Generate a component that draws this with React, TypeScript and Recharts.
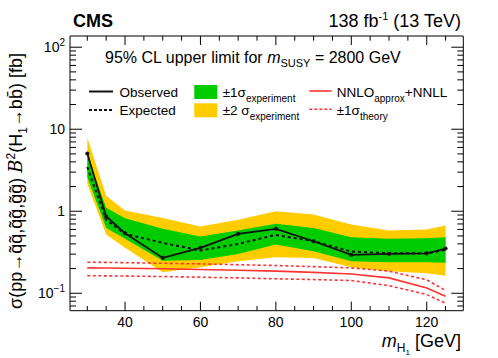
import React from 'react';
import { ComposedChart, Area, Line, XAxis, YAxis } from 'recharts';

const FONT = '"Liberation Sans", Arial, Helvetica, sans-serif';

const masses = [30, 35, 40, 50, 60, 70, 80, 90, 100, 110, 120, 125];
const observed = [5.05, 0.862, 0.539, 0.27, 0.358, 0.53, 0.61, 0.431, 0.294, 0.302, 0.307, 0.351];
const expected = [3.46, 0.785, 0.53, 0.412, 0.332, 0.4, 0.515, 0.431, 0.323, 0.307, 0.307, 0.338];
const sigma1Low = [2.6, 0.627, 0.461, 0.25, 0.255, 0.302, 0.393, 0.325, 0.246, 0.239, 0.239, 0.235];
const sigma1High = [4.78, 1.1, 0.821, 0.61, 0.491, 0.581, 0.702, 0.627, 0.482, 0.461, 0.469, 0.482];
const sigma2Low = [2.16, 0.52, 0.358, 0.18, 0.207, 0.246, 0.275, 0.27, 0.207, 0.185, 0.175, 0.164];
const sigma2High = [7.85, 1.55, 1.02, 0.83, 0.651, 0.786, 1.0, 0.911, 0.689, 0.581, 0.598, 0.669];
const theory = [0.204, 0.203, 0.202, 0.199, 0.195, 0.191, 0.186, 0.18, 0.172, 0.154, 0.116, 0.092];
const theoryUp = [0.239, 0.238, 0.236, 0.232, 0.228, 0.223, 0.218, 0.211, 0.204, 0.186, 0.146, 0.108];
const theoryDown = [0.164, 0.163, 0.162, 0.16, 0.157, 0.154, 0.15, 0.147, 0.143, 0.124, 0.0964, 0.0755];

const xTicks = [30, 35, 40, 45, 50, 55, 60, 65, 70, 75, 80, 85, 90, 95, 100, 105, 110, 115, 120, 125];
const xMajor = [40, 60, 80, 100, 120];
const yTicks = [0.07, 0.08, 0.09, 0.1, 0.2, 0.3, 0.4, 0.5, 0.6, 0.7, 0.8, 0.9, 1, 2, 3, 4, 5, 6, 7, 8, 9, 10, 20, 30, 40, 50, 60, 70, 80, 90, 100];
const yMajor = [0.1, 1, 10, 100];

const X_DOMAIN = [25.41, 129.7];
const Y_DOMAIN = [0.0613, 137];

const data = masses.map((m, i) => ({
  m,
  obs: observed[i],
  exp: expected[i],
  band1: [sigma1Low[i], sigma1High[i]],
  band2: [sigma2Low[i], sigma2High[i]],
  th: theory[i],
  thUp: theoryUp[i],
  thDn: theoryDown[i],
}));

const XBottomTick = (props: any) => {
  const { x, y, payload } = props;
  const v = payload.value;
  const major = xMajor.includes(v);
  return (
    <g>
      <line x1={x} x2={x} y1={y} y2={y - (major ? 9 : 4.7)} stroke="#000" strokeWidth={1} />
      {major && (
        <text x={x} y={y + 16.5} textAnchor="middle" fontSize={14} fontFamily={FONT} fill="#000">
          {v}
        </text>
      )}
    </g>
  );
};

const XTopTick = (props: any) => {
  const { x, y, payload } = props;
  const major = xMajor.includes(payload.value);
  return <line x1={x} x2={x} y1={y} y2={y + (major ? 9 : 4.7)} stroke="#000" strokeWidth={1} />;
};

const yLabel = (v: number) => {
  if (v === 0.1)
    return (
      <>
        10<tspan dy={-6} fontSize={10}>−1</tspan>
      </>
    );
  if (v === 100)
    return (
      <>
        10<tspan dy={-6} fontSize={10}>2</tspan>
      </>
    );
  return <>{String(v)}</>;
};

const YLeftTick = (props: any) => {
  const { x, y, payload } = props;
  const v = payload.value;
  const major = yMajor.includes(v);
  return (
    <g>
      <line x1={x} x2={x + (major ? 12 : 6)} y1={y} y2={y} stroke="#000" strokeWidth={1} />
      {major && (
        <text x={x - 5} y={y + 5} textAnchor="end" fontSize={14} fontFamily={FONT} fill="#000">
          {yLabel(v)}
        </text>
      )}
    </g>
  );
};

const YRightTick = (props: any) => {
  const { x, y, payload } = props;
  const major = yMajor.includes(payload.value);
  return <line x1={x} x2={x - (major ? 12 : 6)} y1={y} y2={y} stroke="#000" strokeWidth={1} />;
};

const GREEN = '#00cc00';
const YELLOW = '#ffcc00';
const RED = '#ff3333';

export default function App() {
  return (
    <div style={{ position: 'absolute', left: 0, top: 0, width: 498, height: 358, background: '#fff' }}>
      <ComposedChart
        width={498}
        height={358}
        data={data}
        margin={{ top: 35, right: 33.7, bottom: 46.3, left: 69 }}
      >
        <XAxis
          dataKey="m"
          type="number"
          domain={X_DOMAIN}
          allowDataOverflow
          ticks={xTicks}
          interval={0}
          height={1}
          tickSize={0}
          tickMargin={0}
          tickLine={false}
          tick={XBottomTick}
          axisLine={{ stroke: '#000', strokeWidth: 1 }}
        />
        <XAxis
          xAxisId="top"
          orientation="top"
          dataKey="m"
          type="number"
          domain={X_DOMAIN}
          allowDataOverflow
          ticks={xTicks}
          interval={0}
          height={1}
          tickSize={0}
          tickMargin={0}
          tickLine={false}
          tick={XTopTick}
          axisLine={{ stroke: '#000', strokeWidth: 1 }}
        />
        <YAxis
          type="number"
          scale="log"
          domain={Y_DOMAIN}
          allowDataOverflow
          ticks={yTicks}
          interval={0}
          width={1}
          tickSize={0}
          tickMargin={0}
          tickLine={false}
          tick={YLeftTick}
          axisLine={{ stroke: '#000', strokeWidth: 1 }}
        />
        <YAxis
          yAxisId="right"
          orientation="right"
          type="number"
          scale="log"
          domain={Y_DOMAIN}
          allowDataOverflow
          ticks={yTicks}
          interval={0}
          width={1}
          tickSize={0}
          tickMargin={0}
          tickLine={false}
          tick={YRightTick}
          axisLine={{ stroke: '#000', strokeWidth: 1 }}
        />
        <Area dataKey="band2" stroke="none" fill={YELLOW} fillOpacity={1} isAnimationActive={false} />
        <Area dataKey="band1" stroke="none" fill={GREEN} fillOpacity={1} isAnimationActive={false} />
        <Line dataKey="thUp" stroke={RED} strokeWidth={1.6} strokeDasharray="3 2.5" dot={false} isAnimationActive={false} />
        <Line dataKey="thDn" stroke={RED} strokeWidth={1.6} strokeDasharray="3 2.5" dot={false} isAnimationActive={false} />
        <Line dataKey="th" stroke={RED} strokeWidth={1.6} dot={false} isAnimationActive={false} />
        <Line dataKey="exp" stroke="#111" strokeWidth={2} strokeDasharray="3 3" dot={false} isAnimationActive={false} />
        <Line
          dataKey="obs"
          stroke="#111"
          strokeWidth={1.8}
          dot={{ r: 1.8, fill: '#111', stroke: '#111', strokeWidth: 0.5 }}
          isAnimationActive={false}
        />
      </ComposedChart>
      <svg
        width={498}
        height={358}
        style={{ position: 'absolute', left: 0, top: 0, pointerEvents: 'none' }}
        fontFamily={FONT}
      >
        <text x={73} y={27} fontSize={18} fontWeight="bold" fill="#000">CMS</text>
        <text x={461} y={27} fontSize={18} textAnchor="end" fill="#000">
          138 fb<tspan dy={-7} fontSize={11}>-1</tspan>
          <tspan dy={7}> (13 TeV)</tspan>
        </text>
        <text x={105} y={63} fontSize={16} fill="#000">
          95% CL upper limit for <tspan fontStyle="italic">m</tspan>
          <tspan dy={4} fontSize={11}>SUSY</tspan>
          <tspan dy={-4}> = 2800 GeV</tspan>
        </text>
        {/* legend */}
        <line x1={89} x2={113} y1={91.5} y2={91.5} stroke="#111" strokeWidth={2} />
        <text x={119.5} y={97} fontSize={13.5} fill="#000">Observed</text>
        <line x1={89} x2={113} y1={110} y2={110} stroke="#111" strokeWidth={2} strokeDasharray="3 2" />
        <text x={119.5} y={115} fontSize={13.5} fill="#000">Expected</text>
        <rect x={194.3} y={85} width={23} height={14} fill={GREEN} />
        <text x={222.7} y={97} fontSize={13.5} fill="#000">
          ±1σ<tspan dy={4.5} fontSize={10}>experiment</tspan>
        </text>
        <rect x={194.3} y={103.3} width={23} height={14} fill={YELLOW} />
        <text x={222.7} y={115} fontSize={13.5} fill="#000">
          ±2 σ<tspan dy={4.5} fontSize={10}>experiment</tspan>
        </text>
        <line x1={309.3} x2={331.7} y1={91} y2={91} stroke={RED} strokeWidth={1.6} />
        <text x={336.7} y={97} fontSize={13.5} fill="#000">
          NNLO<tspan dy={4.5} fontSize={10}>approx</tspan>
          <tspan dy={-4.5}>+NNLL</tspan>
        </text>
        <line x1={309.3} x2={331.7} y1={109.3} y2={109.3} stroke={RED} strokeWidth={1.6} strokeDasharray="3 2" />
        <text x={336.7} y={115} fontSize={13.5} fill="#000">
          ±1σ<tspan dy={4.5} fontSize={10}>theory</tspan>
        </text>
        {/* x axis title */}
        <text x={461} y={346.5} fontSize={18} textAnchor="end" fill="#000">
          <tspan fontStyle="italic">m</tspan>
          <tspan dy={5} fontSize={12}>H</tspan>
          <tspan dy={3} fontSize={8}>1</tspan>
          <tspan dy={-8}> [GeV]</tspan>
        </text>
        {/* y axis title */}
        <text transform="translate(22,181) rotate(-90)" textAnchor="middle" fontSize={18} fill="#000">
          σ(pp→q̃q̃,q̃g̃,g̃g̃) <tspan fontStyle="italic" fontFamily="'DejaVu Serif', serif">B</tspan>
          <tspan dy={-7} fontSize={12}>2</tspan>
          <tspan dy={7}>(H</tspan>
          <tspan dy={4.5} fontSize={12}>1</tspan>
          <tspan dy={-4.5}>→b</tspan>b̄) [fb]
        </text>
      </svg>
    </div>
  );
}
